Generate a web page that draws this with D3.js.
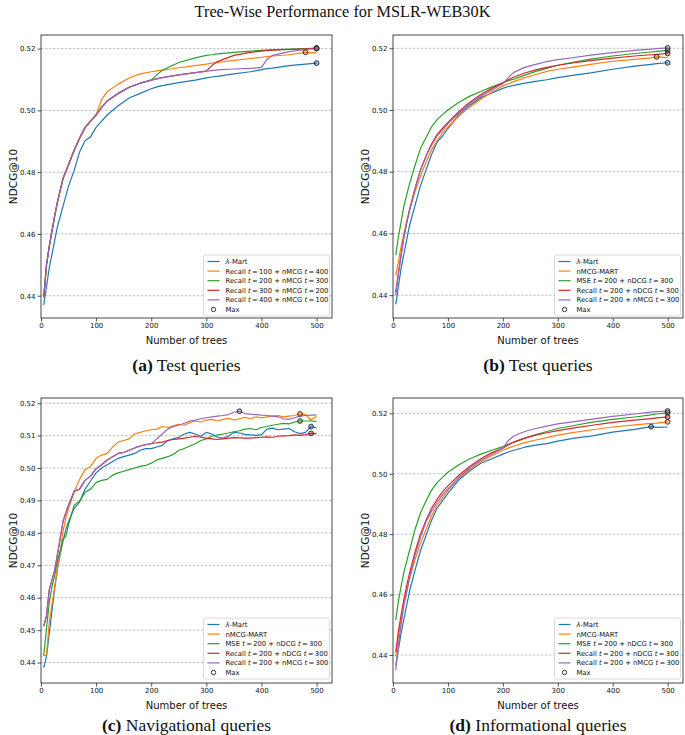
<!DOCTYPE html>
<html><head><meta charset="utf-8">
<script src="https://cdn.jsdelivr.net/npm/d3@7"></script>
<style>body{margin:0;background:#fff}svg{display:block}</style>
</head><body>
<svg id="chart" width="685" height="735"></svg>
<script>
// ---------------- DATA ----------------
const colors = ["#1f77b4", "#ff7f0e", "#2ca02c", "#d62728", "#9467bd"];
const yTicksAB = [0.44, 0.46, 0.48, 0.50, 0.52];
const yTicksC = [0.44, 0.45, 0.46, 0.47, 0.48, 0.49, 0.50, 0.51, 0.52];
const yTicksD = [0.44, 0.46, 0.48, 0.50, 0.52];
const xTicks = [0, 100, 200, 300, 400, 500];

const legendA = ["λ-Mart", "Recall t = 100 + nMCG t = 400", "Recall t = 200 + nMCG t = 300", "Recall t = 300 + nMCG t = 200", "Recall t = 400 + nMCG t = 100"];
const legendBCD = ["λ-Mart", "nMCG-MART", "MSE t = 200 + nDCG t = 300", "Recall t = 200 + nDCG t = 300", "Recall t = 200 + nMCG t = 300"];

// Panel (a)
const treesA = [5,10,15,20,25,30,40,50,60,70,80,90,100,110,120,140,160,180,200,210,220,250,280,300,310,320,350,380,400,410,420,450,480,500];
const a_lambda = [0.437,0.443,0.449,0.4535,0.458,0.4625,0.469,0.4755,0.4805,0.4865,0.4902,0.4915,0.4945,0.4965,0.4985,0.5015,0.504,0.5055,0.507,0.5076,0.508,0.509,0.5098,0.5105,0.5108,0.511,0.5118,0.5125,0.5132,0.5135,0.5137,0.5145,0.515,0.5153];
const a_r100 = [0.4395,0.450,0.456,0.461,0.466,0.4705,0.478,0.4825,0.487,0.491,0.4945,0.4965,0.4985,0.5035,0.506,0.5085,0.5105,0.5118,0.5125,0.5128,0.513,0.5138,0.5145,0.515,0.5153,0.5155,0.5162,0.5168,0.5172,0.5174,0.5176,0.518,0.5188,0.5186];
const a_r200 = [0.4395,0.450,0.456,0.461,0.466,0.4705,0.478,0.4825,0.487,0.491,0.4945,0.4965,0.4985,0.501,0.503,0.5055,0.5075,0.5088,0.5098,0.5115,0.513,0.5155,0.517,0.5178,0.518,0.5183,0.5188,0.5192,0.5194,0.5195,0.5196,0.5198,0.520,0.5201];
const a_r300 = [0.4395,0.450,0.456,0.461,0.466,0.4705,0.478,0.4825,0.487,0.491,0.4945,0.4965,0.4985,0.501,0.503,0.5055,0.5075,0.5088,0.5098,0.5102,0.5106,0.5115,0.5122,0.5127,0.5145,0.5158,0.5178,0.5188,0.5192,0.5194,0.5195,0.5197,0.5199,0.5202];
const a_r400 = [0.4395,0.450,0.456,0.461,0.466,0.4705,0.478,0.4825,0.487,0.491,0.4945,0.4965,0.4985,0.501,0.503,0.5055,0.5075,0.5088,0.5098,0.5102,0.5106,0.5115,0.5122,0.5127,0.5129,0.5131,0.5134,0.5136,0.5139,0.5165,0.5178,0.519,0.5197,0.5200];

// Panel (b) and (d)
const treesBD = [5,10,15,20,25,30,40,50,60,70,80,90,100,120,140,160,180,200,210,220,240,260,280,300,330,360,400,440,470,480,500];
const b_lambda = [0.437,0.443,0.449,0.4535,0.458,0.4625,0.469,0.4755,0.4805,0.4855,0.4895,0.4915,0.494,0.4985,0.5015,0.504,0.5055,0.507,0.5076,0.508,0.5087,0.5093,0.5098,0.5105,0.5113,0.512,0.5132,0.5142,0.5148,0.515,0.5153];
const b_nmcg = [0.4465,0.451,0.456,0.46,0.464,0.4675,0.4735,0.4785,0.483,0.487,0.490,0.4925,0.4945,0.498,0.501,0.5035,0.5058,0.5078,0.5085,0.5092,0.5105,0.5115,0.5125,0.5132,0.514,0.5148,0.5158,0.5164,0.5169,0.5172,0.517];
const b_mse = [0.453,0.459,0.464,0.469,0.4725,0.476,0.482,0.4875,0.491,0.4945,0.4968,0.4985,0.500,0.5025,0.5045,0.506,0.5075,0.5088,0.5095,0.510,0.5113,0.5125,0.5135,0.5145,0.5155,0.5165,0.5175,0.5183,0.5188,0.519,0.5193];
const b_rndcg = [0.441,0.4475,0.4535,0.459,0.4635,0.4675,0.4745,0.4805,0.485,0.489,0.492,0.494,0.496,0.4995,0.5025,0.505,0.507,0.5088,0.5098,0.5107,0.512,0.513,0.5138,0.5145,0.5153,0.516,0.5168,0.5175,0.5179,0.518,0.5183];
const b_rnmcg = [0.440,0.447,0.453,0.459,0.4635,0.4675,0.4745,0.4805,0.485,0.4885,0.4915,0.4935,0.4955,0.499,0.502,0.5045,0.5065,0.5085,0.5105,0.5122,0.5138,0.5148,0.5157,0.5163,0.517,0.5178,0.5186,0.5193,0.5197,0.5199,0.5201];

const d_lambda = [0.4365,0.442,0.4475,0.452,0.4565,0.461,0.468,0.4745,0.4795,0.4845,0.4885,0.491,0.4935,0.498,0.501,0.5035,0.505,0.5065,0.5072,0.5078,0.5088,0.5095,0.510,0.5108,0.5118,0.5125,0.5138,0.5147,0.5156,0.5154,0.5155];
const d_nmcg = [0.4395,0.4465,0.452,0.457,0.461,0.465,0.4715,0.477,0.4815,0.486,0.4895,0.492,0.4945,0.4985,0.5015,0.504,0.506,0.5078,0.5085,0.5092,0.5103,0.5112,0.512,0.5128,0.5137,0.5145,0.5155,0.5162,0.5167,0.5168,0.5172];
const d_mse = [0.4515,0.458,0.463,0.4675,0.471,0.4745,0.4815,0.487,0.491,0.4945,0.497,0.4988,0.5005,0.503,0.505,0.5065,0.5078,0.509,0.5098,0.5105,0.5118,0.513,0.514,0.515,0.516,0.517,0.518,0.5188,0.5195,0.5198,0.5202];
const d_rndcg = [0.441,0.448,0.4535,0.4585,0.463,0.467,0.474,0.480,0.4845,0.4885,0.4915,0.494,0.496,0.4995,0.5025,0.505,0.507,0.5085,0.5095,0.5105,0.5118,0.5128,0.5136,0.5143,0.5152,0.516,0.517,0.5178,0.5183,0.5185,0.5188];
const d_rnmcg = [0.435,0.4435,0.4505,0.4565,0.461,0.4655,0.473,0.479,0.484,0.4875,0.4905,0.493,0.495,0.4988,0.502,0.5045,0.5065,0.5085,0.511,0.5125,0.514,0.515,0.5158,0.5165,0.5173,0.518,0.519,0.5198,0.5204,0.5206,0.5208];

// Panel (c)
const treesC = [5,10,15,20,25,30,35,40,45,50,60,70,80,90,100,110,120,130,140,150,160,170,180,190,200,210,220,230,240,250,260,270,280,290,300,310,320,330,340,350,360,370,380,390,400,410,420,430,440,450,460,470,480,490,500];
const c_lambda = [0.4384,0.442,0.449,0.456,0.463,0.469,0.4735,0.4775,0.481,0.4835,0.4875,0.4895,0.4935,0.496,0.4985,0.500,0.501,0.502,0.503,0.5035,0.504,0.5045,0.5055,0.506,0.506,0.5065,0.507,0.5085,0.509,0.5095,0.5105,0.511,0.5105,0.5098,0.511,0.5105,0.5095,0.5092,0.5098,0.511,0.5108,0.5104,0.5102,0.5101,0.5103,0.512,0.5123,0.5118,0.512,0.5122,0.5112,0.5106,0.511,0.5128,0.5124];
const c_nmcg = [0.442,0.4425,0.4525,0.458,0.4635,0.4695,0.4745,0.4805,0.4845,0.4875,0.4925,0.4965,0.4995,0.5005,0.503,0.504,0.5045,0.5065,0.508,0.5085,0.509,0.5105,0.511,0.5115,0.5118,0.512,0.5128,0.5125,0.513,0.5135,0.5132,0.514,0.5145,0.5142,0.5148,0.515,0.5145,0.515,0.5153,0.5148,0.5152,0.5156,0.5152,0.5158,0.5155,0.5158,0.516,0.5162,0.5158,0.516,0.5162,0.5167,0.5165,0.5148,0.516];
const c_mse = [0.4422,0.4505,0.4585,0.4635,0.467,0.4715,0.4745,0.478,0.479,0.4825,0.4885,0.4898,0.4925,0.4935,0.4955,0.4962,0.4965,0.4978,0.4985,0.499,0.4995,0.500,0.5005,0.5008,0.5015,0.5025,0.503,0.5035,0.5042,0.5055,0.506,0.5068,0.5075,0.5085,0.509,0.5098,0.5102,0.5105,0.5108,0.5112,0.5115,0.512,0.5122,0.5118,0.5125,0.5128,0.5132,0.5135,0.5138,0.5136,0.5142,0.5145,0.5145,0.5145,0.5144];
const c_rndcg = [0.4512,0.4545,0.4625,0.4655,0.4685,0.4735,0.4785,0.4835,0.4862,0.4885,0.4928,0.4935,0.4962,0.4975,0.4998,0.501,0.5025,0.5035,0.5045,0.5048,0.5055,0.5062,0.5068,0.5072,0.5075,0.5078,0.508,0.5085,0.5088,0.509,0.5092,0.5095,0.5098,0.5095,0.5092,0.509,0.5088,0.509,0.5092,0.5094,0.5093,0.5092,0.5092,0.5094,0.5095,0.5096,0.5095,0.5098,0.5099,0.510,0.5102,0.5101,0.5103,0.5107,0.5106];
const c_rnmcg = [0.4512,0.4545,0.4625,0.4655,0.4685,0.4735,0.4785,0.4835,0.4862,0.4885,0.4928,0.4935,0.4962,0.4975,0.4998,0.501,0.5025,0.5035,0.5045,0.5048,0.5055,0.5062,0.5068,0.5072,0.5075,0.509,0.5105,0.512,0.5128,0.5132,0.5138,0.5145,0.5148,0.5152,0.5155,0.5158,0.516,0.5162,0.5165,0.5172,0.5175,0.5168,0.5166,0.5165,0.5163,0.5162,0.516,0.5158,0.5152,0.515,0.5155,0.516,0.5162,0.5163,0.5164];

// ---------------- PANELS ----------------
const panels = [
  {box:[41,35,332,318], trees:treesA, series:[a_lambda,a_r100,a_r200,a_r300,a_r400], labels:legendA, yTicks:yTicksAB, yDom:[0.4328,0.5244], letter:"(a)", caption:"Test queries", capY:371, legY:255},
  {box:[393,35,683,318], trees:treesBD, series:[b_lambda,b_nmcg,b_mse,b_rndcg,b_rnmcg], labels:legendBCD, yTicks:yTicksAB, yDom:[0.4326,0.5243], letter:"(b)", caption:"Test queries", capY:371, legY:255},
  {box:[41,398,332,683], trees:treesC, series:[c_lambda,c_nmcg,c_mse,c_rndcg,c_rnmcg], labels:legendBCD, yTicks:yTicksC, yDom:[0.4337,0.5216], letter:"(c)", caption:"Navigational queries", capY:731, legY:618},
  {box:[393,398,683,683], trees:treesBD, series:[d_lambda,d_nmcg,d_mse,d_rndcg,d_rnmcg], labels:legendBCD, yTicks:yTicksD, yDom:[0.4307,0.5251], letter:"(d)", caption:"Informational queries", capY:731, legY:618}
];

const svg = d3.select("#chart");
svg.append("text").attr("x", 342.5).attr("y", 17).attr("text-anchor","middle")
  .attr("font-family","Liberation Serif, Times New Roman, serif").attr("font-size", 16.3).attr("fill","#111")
  .text("Tree-Wise Performance for MSLR-WEB30K");

function richLabel(sel, label) {
  const parts = label.replace(/ = /g, "\u2009=\u2009").split(/(λ|\bt\b)/);
  parts.forEach(p => {
    if (p === "") return;
    const ts = sel.append("tspan").text(p);
    if (p === "λ" || p === "t") ts.attr("font-style","italic");
  });
}

panels.forEach(p => {
  const [x0,y0,x1,y1] = p.box;
  const x = d3.scaleLinear().domain([0,528]).range([x0,x1]);
  const y = d3.scaleLinear().domain(p.yDom).range([y1,y0]);
  const g = svg.append("g");

  g.selectAll(".grid").data(p.yTicks).join("line")
    .attr("x1", x0).attr("x2", x1).attr("y1", d=>y(d)).attr("y2", d=>y(d))
    .attr("stroke","#b0b0b0").attr("stroke-width",0.8).attr("stroke-dasharray","2.5,1.5");

  const fmt = d3.format(".2f");
  const ax = g.append("g").attr("transform",`translate(0,${y1})`)
    .call(d3.axisBottom(x).tickValues(xTicks).tickSize(3.5).tickPadding(2).tickFormat(d3.format("d")));
  const ay = g.append("g").attr("transform",`translate(${x0},0)`)
    .call(d3.axisLeft(y).tickValues(p.yTicks).tickSize(3.5).tickPadding(2).tickFormat(fmt));
  [ax,ay].forEach(a => {
    a.select(".domain").remove();
    a.selectAll("line").attr("stroke","#222").attr("stroke-width",0.8);
    a.selectAll("text").attr("font-family","DejaVu Sans, sans-serif").attr("font-size",7).attr("fill","#111");
  });

  const line = d3.line().x((d,i)=>x(p.trees[i])).y(d=>y(d));
  p.series.forEach((s,k) => {
    g.append("path").datum(s).attr("d", line).attr("fill","none")
      .attr("stroke", colors[k]).attr("stroke-width",1.2).attr("stroke-linejoin","round");
  });
  p.series.forEach((s,k) => {
    const i = d3.maxIndex(s);
    g.append("circle").attr("cx", x(p.trees[i])).attr("cy", y(s[i])).attr("r",2.4)
      .attr("fill", colors[k]).attr("fill-opacity",0.45).attr("stroke","#222").attr("stroke-width",0.9);
  });

  g.append("rect").attr("x",x0).attr("y",y0).attr("width",x1-x0).attr("height",y1-y0)
    .attr("fill","none").attr("stroke","#333").attr("stroke-width",0.9);

  g.append("text").attr("x",(x0+x1)/2).attr("y", y1+26).attr("text-anchor","middle")
    .attr("font-family","DejaVu Sans, sans-serif").attr("font-size",10).attr("fill","#111").text("Number of trees");
  g.append("text").attr("transform",`translate(${x0-24},${(y0+y1)/2}) rotate(-90)`).attr("text-anchor","middle")
    .attr("font-family","DejaVu Sans, sans-serif").attr("font-size",10.5).attr("fill","#111").text("NDCG@10");

  const cap = g.append("text").attr("x",(x0+x1)/2).attr("y",p.capY).attr("text-anchor","middle")
    .attr("font-family","Liberation Serif, Times New Roman, serif").attr("font-size",17.5).attr("fill","#111");
  cap.append("tspan").attr("font-weight","bold").text(p.letter);
  cap.append("tspan").text(" " + p.caption);

  const lw = 126, lh = 61;
  const lx = x1 - 2.5 - lw, ly = p.legY;
  const lg = g.append("g");
  lg.append("rect").attr("x",lx).attr("y",ly).attr("width",lw).attr("height",lh).attr("rx",2)
    .attr("fill","#fff").attr("fill-opacity",0.85).attr("stroke","#d0d0d0").attr("stroke-width",0.8);
  const rows = p.labels.map((l,k)=>({l,k})).concat([{l:"Max",k:-1}]);
  rows.forEach((r,j) => {
    const ry = ly + 6.5 + j*9.6;
    if (r.k >= 0) {
      lg.append("line").attr("x1",lx+4).attr("x2",lx+16).attr("y1",ry).attr("y2",ry)
        .attr("stroke",colors[r.k]).attr("stroke-width",1.2);
    } else {
      lg.append("circle").attr("cx",lx+10).attr("cy",ry).attr("r",2.2)
        .attr("fill","none").attr("stroke","#222").attr("stroke-width",0.9);
    }
    const t = lg.append("text").attr("x",lx+22).attr("y",ry+2.4)
      .attr("font-family","DejaVu Sans, sans-serif").attr("font-size",6.8).attr("fill","#111");
    richLabel(t, r.l);
  });
});
</script>
</body></html>
